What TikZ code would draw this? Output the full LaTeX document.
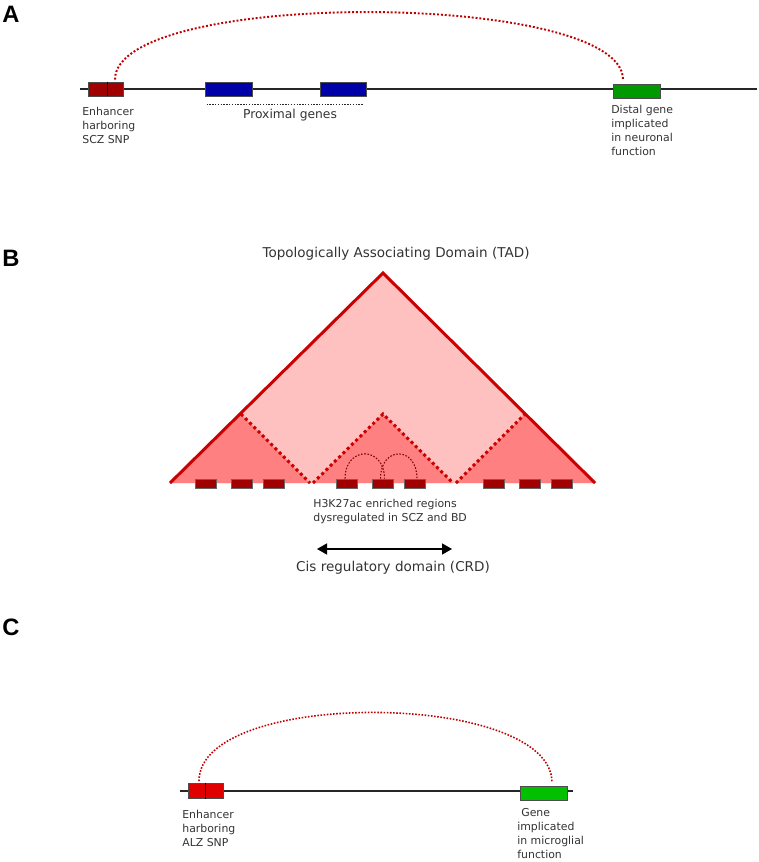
\documentclass[tikz,border=0pt]{standalone}
\usepackage{fontspec}
\setmainfont{DejaVu Sans}
\newfontfamily\panelfont{Liberation Sans}
\usetikzlibrary{arrows.meta,calc}
\definecolor{enhdark}{HTML}{A00000}
\definecolor{enhbright}{HTML}{E00000}
\definecolor{geneblue}{HTML}{0000A8}
\definecolor{genegreen}{HTML}{009A00}
\definecolor{genelime}{HTML}{00C000}
\definecolor{tadline}{HTML}{CC0000}
\definecolor{tadfill}{HTML}{FFC0C0}
\definecolor{crdfill}{HTML}{FF8080}
\definecolor{loopred}{HTML}{C00000}
\definecolor{txtgray}{HTML}{333333}

\begin{document}
\begin{tikzpicture}[x=0.02cm, y=-0.02cm,
    every node/.style={font=\fontsize{6.2}{8}\selectfont, text=txtgray},
    panel/.style={font=\panelfont\bfseries\fontsize{13.5}{13.5}\selectfont, text=black},
    bigtext/.style={font=\fontsize{7.7}{9}\selectfont},
    notes/.style={anchor=north west, align=left, inner sep=0pt},
    genebox/.style={rectangle, draw=black!70, line width=0.5pt, minimum height=0.28cm, inner sep=0pt},
    regbox/.style={rectangle, draw=black!60, line width=0.4pt, fill=enhdark, minimum width=0.42cm, minimum height=0.18cm, inner sep=0pt},
    chrom/.style={draw=black!85, line width=1pt},
    contact/.style={draw=loopred, line width=1.1pt, dash pattern=on 1.1pt off 1.1pt},
    subdots/.style={draw=tadline, line width=1.7pt, dash pattern=on 1.7pt off 1.7pt},
    minidots/.style={draw=loopred!70!black, line width=0.6pt, dash pattern=on 0.9pt off 0.9pt}]
    \useasboundingbox (0,0) rectangle (759,862);

    % panel A
    \node[panel] (labA) at (11,14.5) {A};
    \coordinate (a0) at (80,89);
    \coordinate (a1) at (757,89);
    \draw[chrom] (a0) -- (a1);
    \node[genebox, fill=enhdark, minimum width=0.38cm] (enhAl) at (97.5,89) {};
    \node[genebox, fill=enhdark, minimum width=0.32cm] (enhAr) at (115,89) {};
    \draw[black, line width=1pt] (enhAl.north east) -- (enhAl.south east);
    \node[genebox, fill=geneblue, minimum width=0.94cm] (prox1) at (228.5,89) {};
    \node[genebox, fill=geneblue, minimum width=0.92cm] (prox2) at (343,89) {};
    \node[genebox, fill=genegreen, minimum width=0.94cm] (distA) at (636.5,91) {};
    \draw[black!85, line width=0.9pt, dash pattern=on 0.8pt off 0.8pt]
        ([xshift=0.04cm, yshift=-0.16cm]prox1.south west) -- ([xshift=-0.06cm, yshift=-0.16cm]prox2.south east);
    \node[bigtext, font=\fontsize{7}{8}\selectfont] (proxtxt) at (290,115) {Proximal genes};
    \draw[contact, shorten <=0.04cm, shorten >=0.08cm] (enhAr.north)
        .. controls ($(enhAr.north)+(0,-93)$) and ($(distA.north)+(-13.5,-93)$) .. ($(distA.north)+(-13.5,0)$);
    \node[notes] (enhAtxt) at (82,107) {Enhancer\\harboring\\SCZ SNP};
    \node[notes] (distAtxt) at (611,105) {Distal gene\\implicated\\in neuronal\\function};

    % panel B
    \node[panel] (labB) at (11,258) {B};
    \node[bigtext] (tad) at (396,254) {Topologically Associating Domain (TAD)};
    \coordinate (tl) at (170,483);
    \coordinate (tt) at (383,273);
    \coordinate (tr) at (595,483);
    \fill[tadfill] (tl) -- (tt) -- (tr) -- cycle;
    \fill[crdfill] (tl) -- (241,414) -- (310,483) -- cycle;
    \fill[crdfill] (313,483) -- (383,414) -- (453,483) -- cycle;
    \fill[crdfill] (456,483) -- (525,414) -- (tr) -- cycle;
    \draw[subdots] (241,414) -- (310,483);
    \draw[subdots] (313,483) -- (383,414) -- (453,483);
    \draw[subdots] (456,483) -- (525,414);
    \draw[tadline, line width=1.7pt] (tl) -- (tt) -- (tr);
    \foreach \x [count=\i] in {205.5,241.5,273.5,347,382.5,415,493.5,529.5,561.5}
        \node[regbox] (r\i) at (\x,483.5) {};
    \draw[minidots] ($(r4.north)+(-2,0)$) .. controls ($(r4.north)+(-2,-33)$) and ($(r5.north)+(2,-33)$) .. ($(r5.north)+(2,0)$);
    \draw[minidots] ($(r5.north)+(-2,0)$) .. controls ($(r5.north)+(-2,-33)$) and ($(r6.north)+(2,-33)$) .. ($(r6.north)+(2,0)$);
    \node[notes] (h3txt) at (313,499) {H3K27ac enriched regions\\dysregulated in SCZ and BD};
    \coordinate (crdL) at (317,549);
    \coordinate (crdR) at (452,549);
    \draw[{Triangle[length=0.2cm,width=0.22cm]}-{Triangle[length=0.2cm,width=0.22cm]}, line width=0.8pt] (crdL) -- (crdR);
    \node[bigtext] (crd) at (393,568) {Cis regulatory domain (CRD)};

    % panel C
    \node[panel] (labC) at (11,627.5) {C};
    \coordinate (c0) at (180,791);
    \coordinate (c1) at (573,791);
    \draw[chrom, line width=0.8pt] (c0) -- (c1);
    \node[genebox, fill=enhbright, minimum width=0.34cm, minimum height=0.3cm] (enhCl) at (196.5,791) {};
    \node[genebox, fill=enhbright, minimum width=0.36cm, minimum height=0.3cm] (enhCr) at (214,791) {};
    \draw[black, line width=0.9pt] (enhCl.north east) -- (enhCl.south east);
    \node[genebox, fill=genelime, minimum width=0.94cm] (geneC) at (543.5,793) {};
    \draw[contact, line width=0.9pt, dash pattern=on 0.9pt off 0.9pt, shorten <=0.04cm, shorten >=0.06cm]
        ($(enhCl.north)+(2.5,0)$) .. controls ($(enhCl.north)+(2.5,-95)$) and ($(geneC.north)+(8.5,-95)$) .. ($(geneC.north)+(8.5,0)$);
    \node[notes] (enhCtxt) at (182,810) {Enhancer\\harboring\\ALZ SNP};
    \node[notes] (geneCtxt) at (517,808) {\hspace{0.08cm}Gene\\implicated\\in microglial\\function};
\end{tikzpicture}
\end{document}
